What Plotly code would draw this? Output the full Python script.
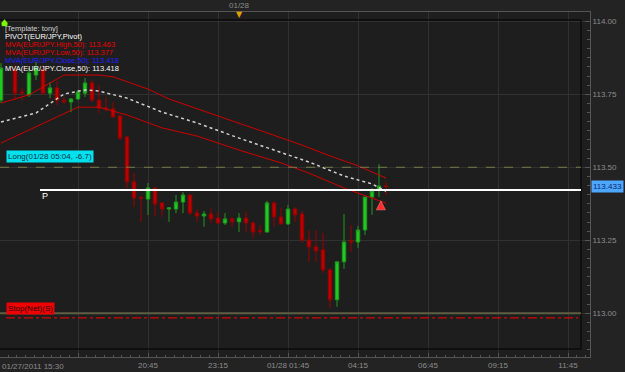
import pandas as pd
import plotly.graph_objects as go

# ---------------- data ----------------
start = pd.Timestamp("2011-01-27 15:30")
bar_index = [0, 2, 3, 4, 5, 6, 7, 8, 9, 10, 11, 12, 13, 14, 15, 16, 17, 18, 19, 20,
             21, 22, 23, 24, 25, 26, 27, 28, 29, 30, 31, 32, 33, 34, 35, 36, 37, 38, 39, 40,
             41, 42, 43, 44, 45, 46, 47, 48, 49, 50, 51, 52, 53, 54, 55]
opens = [113.730, 113.833, 113.758, 113.748, 113.816, 113.833, 113.754, 113.772, 113.730, 113.724,
         113.734, 113.754, 113.789, 113.730, 113.704, 113.700, 113.676, 113.604, 113.450, 113.396,
         113.391, 113.429, 113.378, 113.357, 113.357, 113.381, 113.405, 113.343, 113.333, 113.340,
         113.326, 113.309, 113.323, 113.313, 113.326, 113.309, 113.283, 113.278, 113.378, 113.330,
         113.306, 113.357, 113.340, 113.251, 113.227, 113.217, 113.148, 113.046, 113.176, 113.248,
         113.244, 113.285, 113.398, 113.422, 113.436]
highs = [113.857, 113.850, 113.772, 113.840, 113.861, 113.850, 113.792, 113.796, 113.741, 113.737,
         113.765, 113.806, 113.799, 113.782, 113.741, 113.724, 113.676, 113.604, 113.480, 113.402,
         113.446, 113.430, 113.378, 113.361, 113.405, 113.415, 113.405, 113.357, 113.350, 113.361,
         113.347, 113.343, 113.330, 113.343, 113.350, 113.316, 113.302, 113.385, 113.385, 113.361,
         113.371, 113.364, 113.350, 113.285, 113.285, 113.275, 113.155, 113.176, 113.340, 113.302,
         113.299, 113.398, 113.429, 113.511, 113.450]
lows = [113.720, 113.730, 113.730, 113.741, 113.799, 113.748, 113.737, 113.713, 113.717, 113.689,
        113.730, 113.741, 113.724, 113.686, 113.689, 113.669, 113.593, 113.429, 113.364, 113.313,
        113.337, 113.333, 113.330, 113.313, 113.343, 113.343, 113.337, 113.313, 113.296, 113.309,
        113.306, 113.302, 113.296, 113.278, 113.278, 113.258, 113.268, 113.278, 113.296, 113.302,
        113.302, 113.313, 113.241, 113.176, 113.176, 113.138, 113.018, 113.022, 113.152, 113.210,
        113.224, 113.268, 113.337, 113.398, 113.405]
closes = [113.840, 113.754, 113.754, 113.823, 113.840, 113.754, 113.772, 113.730, 113.724, 113.734,
          113.758, 113.789, 113.730, 113.703, 113.702, 113.672, 113.600, 113.450, 113.395, 113.394,
          113.429, 113.374, 113.357, 113.361, 113.381, 113.405, 113.343, 113.333, 113.340, 113.323,
          113.309, 113.323, 113.313, 113.326, 113.309, 113.278, 113.281, 113.378, 113.330, 113.306,
          113.357, 113.337, 113.251, 113.227, 113.213, 113.148, 113.046, 113.176, 113.244, 113.244,
          113.285, 113.398, 113.419, 113.436, 113.434]

# moving averages read at selected bars
ma_high_idx = [0, 4, 9, 14, 16, 21, 24, 28, 33, 38, 43, 47, 51, 55]
ma_high_val = [113.720, 113.748, 113.816, 113.816, 113.810, 113.768, 113.734, 113.700,
               113.659, 113.618, 113.576, 113.539, 113.505, 113.463]
ma_low_idx = [0, 5, 11, 14, 18, 23, 28, 34, 40, 44, 49, 55]
ma_low_val = [113.583, 113.638, 113.706, 113.706, 113.679, 113.635, 113.607, 113.559,
              113.515, 113.480, 113.429, 113.377]
ma_close_idx = [0, 5, 9, 12, 14, 18, 23, 28, 34, 40, 44, 49, 53, 55]
ma_close_val = [113.655, 113.686, 113.751, 113.765, 113.761, 113.737, 113.689, 113.652,
                113.600, 113.552, 113.518, 113.470, 113.443, 113.418]

pivot_level = 113.422
last_price_text = "113.433"
last_price = 113.433
entry_level = 113.50
stop_level = 112.984
olive_level = 113.00
entry_time = "2011-01-28 05:04"
entry_marker_price = 113.385

y_ticks = [113.00, 113.25, 113.50, 113.75, 114.00]
x_tickvals = ["2011-01-27 18:15", "2011-01-27 20:45", "2011-01-27 23:15", "2011-01-28 01:45",
              "2011-01-28 04:15", "2011-01-28 06:45", "2011-01-28 09:15", "2011-01-28 11:45"]
x_ticktext = ["", "20:45", "23:15", "01/28 01:45", "04:15", "06:45", "09:15", "11:45"]

legend_lines = [
    ("[Template: tony]", "#cfcfcf"),
    ("PIVOT(EUR/JPY,Pivot)", "#ffffff"),
    ("MVA(EUR/JPY.High,50): 113.463", "#e80000"),
    ("MVA(EUR/JPY.Low,50): 113.377", "#e80000"),
    ("MVA(EUR/JPY.Close,50): 113.418", "#2020ff"),
    ("MVA(EUR/JPY.Close,50): 113.418", "#ffffff"),
]

# ---------------- helpers ----------------
def t(i):
    return start + pd.Timedelta(minutes=15 * i)

W, H = 625, 372
ML, MR, MT, MB = 0, 35, 12, 15
PW, PH = W - ML - MR, H - MT - MB


def px_x(x):
    return (x - ML) / PW


def px_y(y):
    return (H - MB - y) / PH


x_range = [start + pd.Timedelta(minutes=-1 * 15 / 7), start + pd.Timedelta(minutes=(PW - 1) * 15 / 7)]
y_range = [112.850, 114.032]

FONT = "Liberation Sans, Arial, sans-serif"

fig = go.Figure()
fig.add_trace(go.Candlestick(
    x=[t(i) for i in bar_index], open=opens, high=highs, low=lows, close=closes,
    increasing=dict(line=dict(color="#1f9a1f", width=1), fillcolor="#20c820"),
    decreasing=dict(line=dict(color="#9a0000", width=1), fillcolor="#bb0000"),
    whiskerwidth=0, hoverinfo="skip", showlegend=False,
))
fig.add_trace(go.Scatter(x=[t(i) for i in ma_high_idx], y=ma_high_val, mode="lines",
                         line=dict(color="#d00000", width=1), hoverinfo="skip", showlegend=False))
fig.add_trace(go.Scatter(x=[t(i) for i in ma_low_idx], y=ma_low_val, mode="lines",
                         line=dict(color="#d00000", width=1), hoverinfo="skip", showlegend=False))
fig.add_trace(go.Scatter(x=[t(i) for i in ma_close_idx], y=ma_close_val, mode="lines",
                         line=dict(color="#d0d0d0", width=1.5, dash="dot"), hoverinfo="skip", showlegend=False))
fig.add_trace(go.Scatter(x=[pd.Timestamp(entry_time)], y=[entry_marker_price], mode="markers",
                         marker=dict(symbol="arrow-up", size=9, color="#ff2a2a",
                                     line=dict(color="#ff9090", width=0.5)),
                         hoverinfo="skip", showlegend=False))

shapes = [
    dict(type="rect", xref="paper", yref="paper", x0=px_x(-1), x1=px_x(581), y0=px_y(349), y1=px_y(20),
         line=dict(color="#000000", width=1), layer="above"),
    dict(type="line", xref="paper", yref="y", x0=px_x(0), x1=px_x(581), y0=entry_level, y1=entry_level,
         line=dict(color="#7a7a4a", width=1, dash="dash")),
    dict(type="line", xref="paper", yref="y", x0=px_x(0), x1=px_x(581), y0=olive_level, y1=olive_level,
         line=dict(color="#5e5e44", width=2)),
    dict(type="line", xref="paper", yref="y", x0=px_x(6), x1=px_x(578), y0=stop_level, y1=stop_level,
         line=dict(color="#ff0000", width=1, dash="dashdot")),
    dict(type="line", xref="paper", yref="y", x0=px_x(40), x1=px_x(581), y0=pivot_level, y1=pivot_level,
         line=dict(color="#ffffff", width=2)),
    # small lime marker at the top-left corner
    dict(type="path", xref="paper", yref="paper",
         path=f"M {px_x(4.5)} {px_y(19.5)} L {px_x(7.5)} {px_y(23)} L {px_x(7)} {px_y(26)} "
              f"L {px_x(2)} {px_y(26)} L {px_x(1.5)} {px_y(23)} Z",
         fillcolor="#7cfc00", line=dict(color="#5fd000", width=0.5), layer="above"),
]

legend_y = [28.3, 36.3, 44.3, 52.4, 60.6, 68.7]
annotations = []
for k, (txt, col) in enumerate(legend_lines):
    annotations.append(dict(text=txt, xref="paper", yref="paper", x=px_x(4), y=px_y(legend_y[k]),
                            xanchor="left", yanchor="middle", showarrow=False, borderpad=0,
                            font=dict(family=FONT, size=7.5, color=col)))
annotations += [
    dict(text="P", xref="paper", yref="paper", x=px_x(40), y=px_y(196), xanchor="left", yanchor="middle",
         showarrow=False, font=dict(family=FONT, size=9, color="#ffffff")),
    dict(text="Long(01/28 05:04, -6.7)", xref="paper", yref="paper", x=px_x(6), y=px_y(156.5),
         xanchor="left", yanchor="middle", showarrow=False, bgcolor="#00e1f0", borderpad=1,
         font=dict(family=FONT, size=8, color="#06303a")),
    dict(text="Stop(Net)(S)", xref="paper", yref="paper", x=px_x(6), y=px_y(308),
         xanchor="left", yanchor="middle", showarrow=False, bgcolor="#f00000", borderpad=1,
         font=dict(family=FONT, size=8, color="#2a0000")),
    dict(text=last_price_text, xref="paper", yref="y", x=px_x(591), y=last_price,
         xanchor="left", yanchor="middle", showarrow=False, bgcolor="#4da6ff", borderpad=1,
         font=dict(family=FONT, size=8, color="#0a2a6a")),
    dict(text="01/27/2011 15:30", xref="paper", yref="paper", x=px_x(0), y=px_y(366),
         xanchor="left", yanchor="middle", showarrow=False,
         font=dict(family=FONT, size=8, color="#8c8c8c")),
    dict(text="01/28", xref="x", yref="paper", x=pd.Timestamp("2011-01-28 00:00"), y=px_y(5),
         xanchor="center", yanchor="middle", showarrow=False,
         font=dict(family=FONT, size=8, color="#8c8c8c")),
    dict(text="\u25BC", xref="x", yref="paper", x=pd.Timestamp("2011-01-28 00:00"), y=px_y(14),
         xanchor="center", yanchor="middle", showarrow=False,
         font=dict(family="DejaVu Sans", size=8, color="#e0a000")),
]

fig.update_layout(
    width=W, height=H, margin=dict(l=ML, r=MR, t=MT, b=MB),
    paper_bgcolor="#232323", plot_bgcolor="#1e1e1e",
    shapes=shapes, annotations=annotations, showlegend=False,
    xaxis=dict(type="date", range=x_range, rangeslider=dict(visible=False),
               tickvals=x_tickvals, ticktext=x_ticktext, tickangle=0,
               showgrid=True, gridcolor="#313131", gridwidth=1,
               ticks="inside", ticklen=4, tickcolor="#555555",
               minor=dict(dtick=1125000, tick0="2011-01-27 15:45", ticks="inside", ticklen=2,
                          tickcolor="#555555", showgrid=False),
               showline=True, linecolor="#555555", mirror=True, zeroline=False,
               tickfont=dict(family=FONT, size=8, color="#8c8c8c")),
    yaxis=dict(side="right", range=y_range, tickvals=y_ticks, tickformat=".2f",
               showgrid=True, gridcolor="#313131", gridwidth=1,
               ticks="inside", ticklen=5, tickcolor="#555555",
               minor=dict(dtick=0.03125, tick0=113.0, ticks="inside", ticklen=3,
                          tickcolor="#555555", showgrid=False),
               showline=True, linecolor="#555555", zeroline=False,
               tickfont=dict(family=FONT, size=8, color="#8c8c8c")),
)

fig.write_html("out.html", config={"displayModeBar": False})
